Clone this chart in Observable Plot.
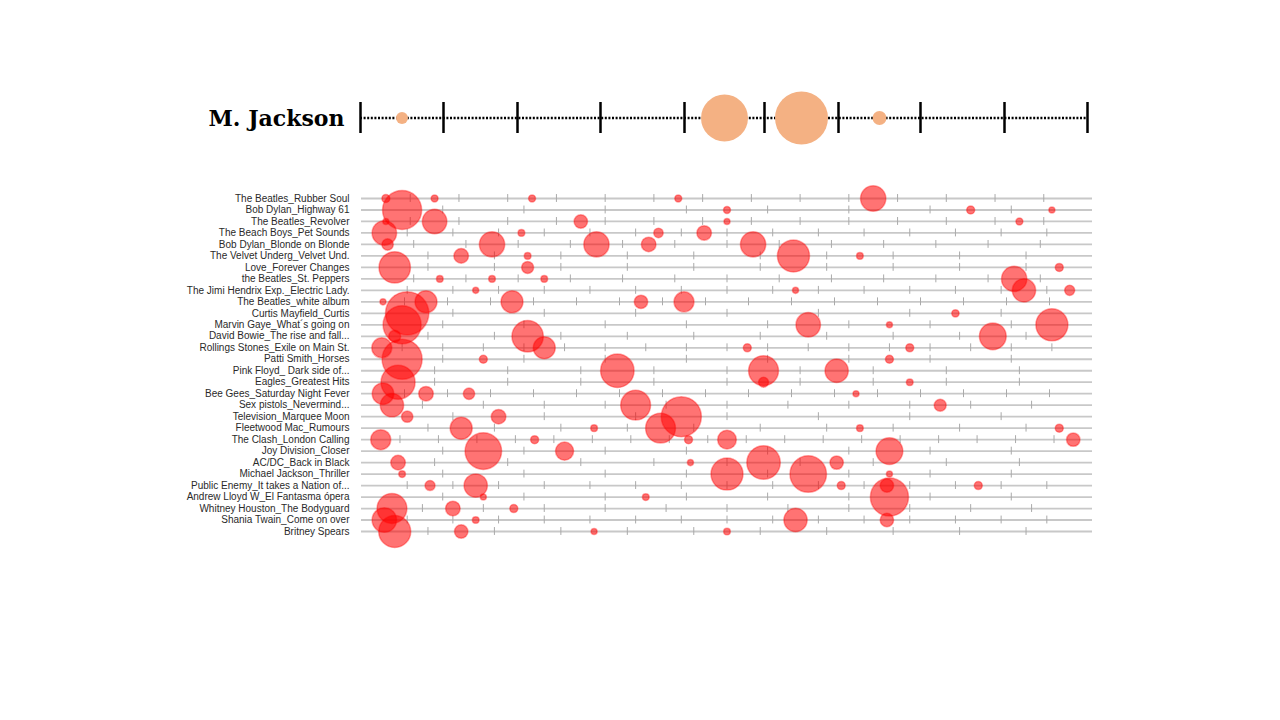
<!DOCTYPE html>
<html><head><meta charset="utf-8">
<script src="https://cdn.jsdelivr.net/npm/d3@7"></script>
<script src="https://cdn.jsdelivr.net/npm/@observablehq/plot@0.6"></script>
<style>
html,body{margin:0;padding:0;background:#fff;width:1280px;height:720px;overflow:hidden;}
#top{position:absolute;left:0;top:78px;}
#main{position:absolute;left:0;top:160px;}
</style></head><body>
<div id="top"></div><div id="main"></div>
<script>
// ---- top strip: M. Jackson ----
const artist = "M. Jackson";
const jacksonTrackLengths = [83, 74, 83, 84, 80, 74, 82, 84, 83];
const jacksonHits = [[0, 7.4], [4, 114], [5, 145], [6, 10]];

// ---- main chart ----
const albums = [
  "The Beatles_Rubber Soul",
  "Bob Dylan_Highway 61",
  "The Beatles_Revolver",
  "The Beach Boys_Pet Sounds",
  "Bob Dylan_Blonde on Blonde",
  "The Velvet Underg_Velvet Und.",
  "Love_Forever Changes",
  "the Beatles_St. Peppers",
  "The Jimi Hendrix Exp._Electric Lady.",
  "The Beatles_white album",
  "Curtis Mayfield_Curtis",
  "Marvin Gaye_What´s going on",
  "David Bowie_The rise and fall...",
  "Rollings Stones_Exile on Main St.",
  "Patti Smith_Horses",
  "Pink Floyd_ Dark side of...",
  "Eagles_Greatest Hits",
  "Bee Gees_Saturday Night Fever",
  "Sex pistols_Nevermind...",
  "Television_Marquee Moon",
  "Fleetwood Mac_Rumours",
  "The Clash_London Calling",
  "Joy Division_Closer",
  "AC/DC_Back in Black",
  "Michael Jackson_Thriller",
  "Public Enemy_It takes a Nation of...",
  "Andrew Lloyd W_El Fantasma ópera",
  "Whitney Houston_The Bodyguard",
  "Shania Twain_Come on over",
  "Britney Spears"
];
const trackCounts = [15, 9, 15, 16, 14, 11, 11, 14, 16, 17, 8, 9, 11, 18, 9,
                     10, 10, 17, 12, 8, 11, 19, 9, 10, 9, 16, 9, 12, 16, 11];
// [track index, value] per album
const hits = [
  [[0, 3.3], [1, 2.5], [3, 2.5], [6, 2.5], [10, 33]],
  [[0, 79], [4, 2.5], [7, 3.3], [8, 1.9]],
  [[0, 1.9], [1, 31], [4, 9.3], [7, 1.9], [13, 2.5]],
  [[0, 31], [3, 2.3], [6, 4.6], [7, 11]],
  [[0, 6.7], [2, 33], [4, 33], [5, 11], [7, 33]],
  [[1, 11], [2, 2.3], [6, 53], [7, 2.3]],
  [[0, 51], [2, 7.4], [10, 3.3]],
  [[1, 2.3], [2, 2.3], [3, 2.3], [12, 33]],
  [[2, 1.9], [9, 1.9], [14, 28], [15, 5.2]],
  [[0, 1.9], [1, 25], [3, 25], [6, 9.3], [7, 20.7]],
  [[0, 97], [6, 2.8]],
  [[0, 75], [5, 31], [6, 1.9], [8, 53]],
  [[0, 7.4], [2, 51], [9, 37]],
  [[0, 20.7], [4, 25], [9, 3.3], [13, 3.3]],
  [[0, 83], [1, 3.3], [6, 3.3]],
  [[3, 58], [5, 46], [6, 28]],
  [[0, 60], [5, 5.2], [7, 2.3]],
  [[0, 24], [1, 11], [2, 6.7], [11, 1.9]],
  [[0, 28], [4, 46], [9, 7.4]],
  [[0, 6.7], [1, 11], [3, 83]],
  [[1, 25], [3, 2.3], [4, 46], [7, 2.3], [10, 3.3]],
  [[0, 20.7], [4, 3.3], [8, 3.3], [9, 18], [18, 9.3]],
  [[1, 69], [2, 17], [6, 37]],
  [[0, 11], [4, 1.9], [5, 58], [6, 9.3]],
  [[0, 2.3], [4, 53], [5, 69], [6, 1.9]],
  [[1, 5.2], [2, 28], [10, 3.3], [11, 9.3], [13, 3.3]],
  [[1, 1.9], [3, 2.3], [6, 75]],
  [[0, 46], [1, 11], [2, 3.3]],
  [[0, 31], [2, 2.3], [9, 28], [11, 9.3]],
  [[0, 53], [1, 9.3], [3, 1.9], [5, 2.3]]
];

// ---- build top strip ----
const bounds = [0];
jacksonTrackLengths.forEach(l => bounds.push(bounds[bounds.length - 1] + l));
const total = bounds[bounds.length - 1];
const topDots = jacksonHits.map(([t, v]) => ({x: (bounds[t] + bounds[t + 1]) / 2, v}));

const topPlot = Plot.plot({
  width: 1280, height: 80,
  marginLeft: 360, marginRight: 193, marginTop: 24, marginBottom: 25,
  x: {domain: [0, total], axis: null},
  y: {domain: [0, 1], axis: null},
  r: {type: "sqrt", domain: [0, 100], range: [0, 22]},
  style: {background: "transparent", overflow: "visible"},
  marks: [
    Plot.ruleY([0.5], {x1: () => 0, x2: () => total, stroke: "black", strokeWidth: 2.5, strokeDasharray: "2,1.6"}),
    Plot.tickX(bounds, {x: d => d, stroke: "black", strokeWidth: 2.5}),
    Plot.dot(topDots, {x: "x", y: () => 0.5, r: "v", fill: "#f4b183"}),
    Plot.text([artist], {x: () => 0, y: () => 0.5, text: d => d, dx: -16, dy: 1, textAnchor: "end",
      fontSize: 22, fontWeight: "bold", fontFamily: "'DejaVu Serif', serif", fill: "black"})
  ]
});
document.getElementById("top").appendChild(topPlot);

// ---- build main chart ----
const tickData = albums.flatMap((a, i) =>
  d3.range(1, trackCounts[i]).map(k => ({album: a, x: k / trackCounts[i]})));
const hitData = albums.flatMap((a, i) =>
  hits[i].map(([t, v]) => ({album: a, x: (t + 0.5) / trackCounts[i], v})));

const mainPlot = Plot.plot({
  width: 1280, height: 400,
  marginLeft: 361, marginRight: 188, marginTop: 32.26, marginBottom: 23.26,
  x: {domain: [0, 1], axis: null},
  y: {type: "band", domain: albums, padding: 0, round: false, label: null, tickSize: 0, tickPadding: 12},
  r: {type: "sqrt", domain: [0, 100], range: [0, 22]},
  style: {fontFamily: "'Liberation Sans', Arial, sans-serif", fontSize: "10px", color: "#2a2a2a",
          background: "transparent", overflow: "visible"},
  marks: [
    Plot.ruleY(albums, {y: d => d, x1: () => 0, x2: () => 1, stroke: "#c8c8c8", strokeWidth: 1.8}),
    Plot.tickX(tickData, {x: "x", y: "album", stroke: "#aaa", strokeWidth: 1, insetTop: 1.8, insetBottom: 1.8}),
    Plot.dot(hitData, {x: "x", y: "album", r: "v", fill: "red", fillOpacity: 0.55, stroke: "red", strokeOpacity: 0.35})
  ]
});
document.getElementById("main").appendChild(mainPlot);
</script>
</body></html>
